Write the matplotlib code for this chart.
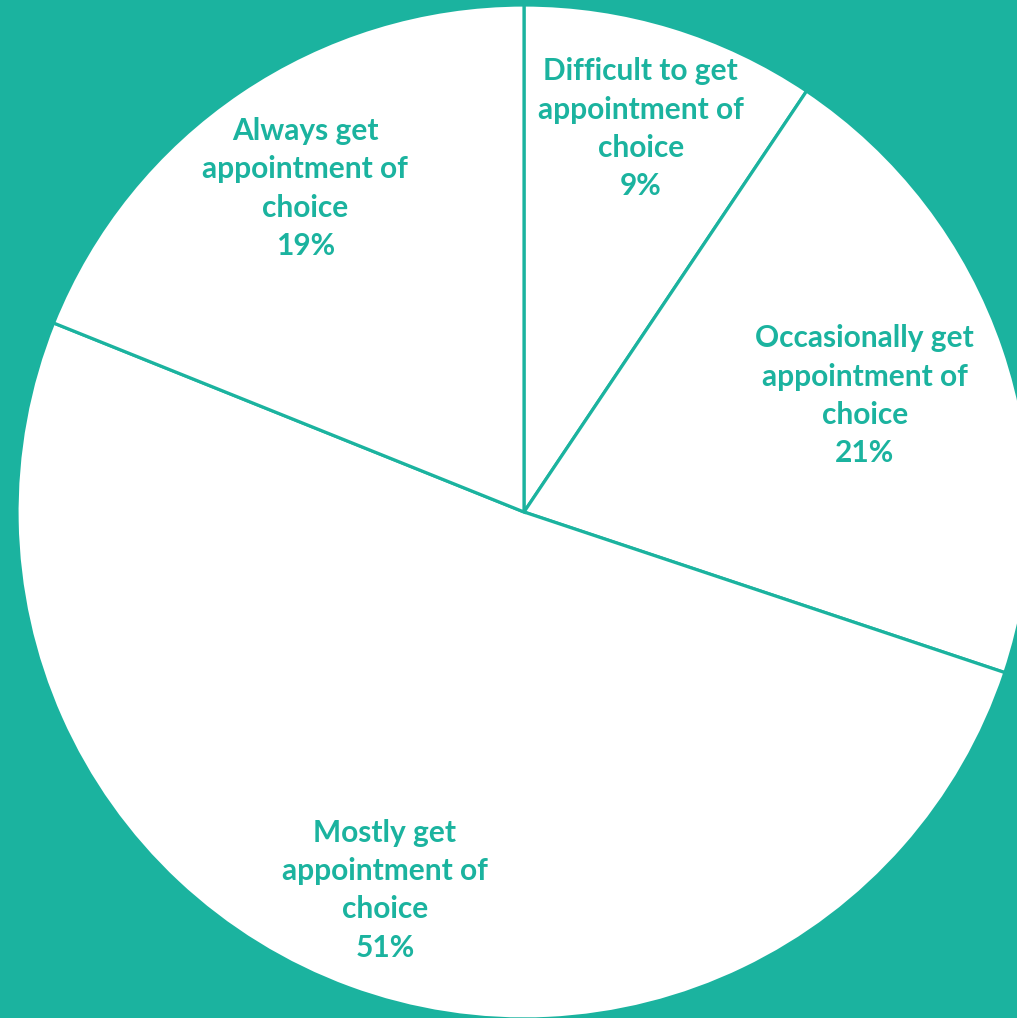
import numpy as np
import matplotlib
matplotlib.use("Agg")
import matplotlib.pyplot as plt

# slices, clockwise from 12 o'clock
labels = ["Difficult to get\nappointment of\nchoice",
          "Occasionally get\nappointment of\nchoice",
          "Mostly get\nappointment of\nchoice",
          "Always get\nappointment of\nchoice"]
values = [9.4, 20.7, 50.9, 18.9]

teal = "#1bb39f"
label_r = [0.79, 0.71, 0.795, 0.77]

fig = plt.figure(figsize=(10.17, 10.18), dpi=100)
fig.patch.set_facecolor(teal)
ax = fig.add_axes([0, 0, 1, 1])
ax.set_facecolor(teal)

R = 507.0
cx, cy = 524.0, 512.0
wedges, _ = ax.pie(values, startangle=90, counterclock=False, radius=1,
                   colors=["white"] * len(values),
                   wedgeprops=dict(edgecolor=teal, linewidth=2.3))

for w, lab, v, r in zip(wedges, labels, values, label_r):
    ang = np.deg2rad((w.theta1 + w.theta2) / 2)
    ax.text(r * np.cos(ang), r * np.sin(ang), "%s\n%.0f%%" % (lab, v),
            ha="center", va="center", color=teal, fontsize=21.5,
            fontweight="bold", family="Lato", linespacing=1.45)

ax.set_xlim(-cx / R, (1017 - cx) / R)
ax.set_ylim(-(1018 - cy) / R, cy / R)
ax.set_aspect("auto")
ax.axis("off")
fig.savefig("out.png", dpi=100, facecolor=teal)
